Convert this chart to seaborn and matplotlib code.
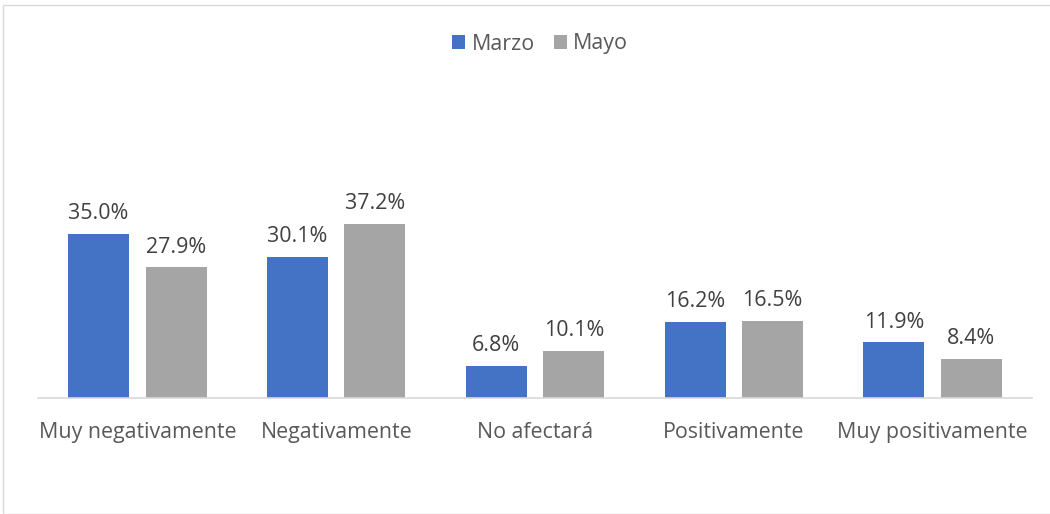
import matplotlib
matplotlib.use("Agg")
import matplotlib.pyplot as plt
import seaborn as sns
import pandas as pd
from matplotlib.patches import Rectangle, Patch

categories = ["Muy negativamente", "Negativamente", "No afectará", "Positivamente", "Muy positivamente"]
marzo = [35.0, 30.1, 6.8, 16.2, 11.9]
mayo = [27.9, 37.2, 10.1, 16.5, 8.4]
series = ["Marzo", "Mayo"]
colors = ["#4472C4", "#A5A5A5"]

df = pd.DataFrame({
    "cat": categories * 2,
    "serie": ["Marzo"] * len(categories) + ["Mayo"] * len(categories),
    "val": marzo + mayo,
})

sns.set_theme(style="white")
plt.rcParams["font.family"] = ["Open Sans", "DejaVu Sans"]

W, H = 1050, 514
fig = plt.figure(figsize=(W / 100, H / 100), dpi=100)
fig.patch.set_facecolor("white")

# chart border
fig.add_artist(Rectangle((3 / W, 0), 1.2, 1 - 5 / H, transform=fig.transFigure,
                         fill=False, edgecolor="#D9D9D9", linewidth=1.0))

ax = fig.add_axes([38 / W, 1 - 398 / H, 994 / W, 40 * 4.685 / H])
sns.barplot(data=df, x="cat", y="val", hue="serie", palette=colors, order=categories,
            hue_order=series, width=0.78, gap=0.213, ax=ax, legend=False, saturation=1,
            linewidth=0, edgecolor="none")
ax.set_xlim(-0.5, 4.5)
ax.set_ylim(0, 40)
ax.set_xlabel("")
ax.set_ylabel("")
ax.set_yticks([])
for s in ["top", "right", "left"]:
    ax.spines[s].set_visible(False)
ax.spines["bottom"].set_color("#D9D9D9")
ax.spines["bottom"].set_linewidth(1.2)
ax.tick_params(axis="x", length=0, pad=17, labelsize=15.4, labelcolor="#595959")

for cont in ax.containers:
    for bar in cont:
        h = bar.get_height()
        ax.annotate(f"{h:.1f}%", (bar.get_x() + bar.get_width() / 2, h),
                    xytext=(0, 7), textcoords="offset points", ha="center", va="bottom",
                    fontsize=15.4, color="#404040", annotation_clip=False)

handles = [Patch(facecolor=c, edgecolor="none") for c in colors]
fig.legend(handles, series, loc="center", bbox_to_anchor=(540 / W, 1 - 44 / H), ncol=2,
           frameon=False, fontsize=15.4, labelcolor="#595959", handlelength=0.6,
           handleheight=0.6, handletextpad=0.3, columnspacing=0.9)

fig.savefig("out.png", dpi=100, facecolor="white")
